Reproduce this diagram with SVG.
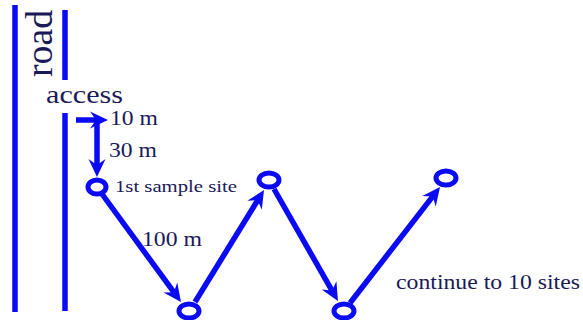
<svg xmlns="http://www.w3.org/2000/svg" width="583" height="320" viewBox="0 0 583 320">
<style>
.ln{stroke:#0a0af5;stroke-width:5.5;fill:none}
.site{fill:none;stroke:#0a0af5;stroke-width:5}
.arr{stroke:#0a0af5;stroke-width:5.5;fill:none;marker-end:url(#ah)}
text{font-family:'Liberation Serif','Times New Roman',Times,serif;fill:#1a1a58}
</style>
<defs>
<marker id="ah" markerUnits="userSpaceOnUse" viewBox="-20 -10 32 20" markerWidth="32" markerHeight="20" refX="-10" refY="0" orient="auto">
<path d="M0,0 L-18,-8.5 L-12,0 L-18,8.5 Z" fill="#0a0af5"/>
</marker>
</defs>
<rect width="583" height="320" fill="#ffffff"/>
<g id="road">
<line class="ln" x1="15" y1="5" x2="15" y2="312"/>
<line class="ln" x1="65" y1="10" x2="65" y2="80"/>
<line class="ln" x1="65" y1="113" x2="65" y2="311"/>
<text font-size="38" transform="translate(52,77) rotate(-90)" textLength="67" lengthAdjust="spacingAndGlyphs">road</text>
</g>
<g id="access">
<text x="46" y="103" font-size="26" textLength="77" lengthAdjust="spacingAndGlyphs">access</text>
</g>
<g id="connectors">
<line class="arr" x1="76" y1="120" x2="98" y2="120"/>
<line class="arr" x1="97" y1="124" x2="97" y2="167"/>
<line class="arr" x1="102" y1="194" x2="175.1" y2="293.9"/>
<line class="arr" x1="195" y1="302" x2="258.75" y2="198.5"/>
<line class="arr" x1="274" y1="189" x2="333" y2="292.3"/>
<line class="arr" x1="350" y1="303" x2="433.9" y2="194.9"/>
<text x="110" y="125" font-size="22" textLength="48" lengthAdjust="spacingAndGlyphs">10 m</text>
<text x="109" y="157" font-size="22" textLength="48" lengthAdjust="spacingAndGlyphs">30 m</text>
<text x="142" y="246" font-size="22" textLength="60" lengthAdjust="spacingAndGlyphs">100 m</text>
</g>
<g id="site1">
<ellipse class="site" cx="97" cy="187" rx="9" ry="7"/>
<text x="115" y="192" font-size="17" textLength="122" lengthAdjust="spacingAndGlyphs">1st sample site</text>
</g>
<g id="site2"><ellipse class="site" cx="189" cy="311" rx="10" ry="7"/></g>
<g id="site3"><ellipse class="site" cx="269" cy="180" rx="10" ry="7"/></g>
<g id="site4"><ellipse class="site" cx="344" cy="311" rx="10" ry="7"/></g>
<g id="site5"><ellipse class="site" cx="446" cy="178" rx="10" ry="7"/></g>
<g id="note">
<text x="396" y="289" font-size="22" textLength="184" lengthAdjust="spacingAndGlyphs">continue to 10 sites</text>
</g>
</svg>
